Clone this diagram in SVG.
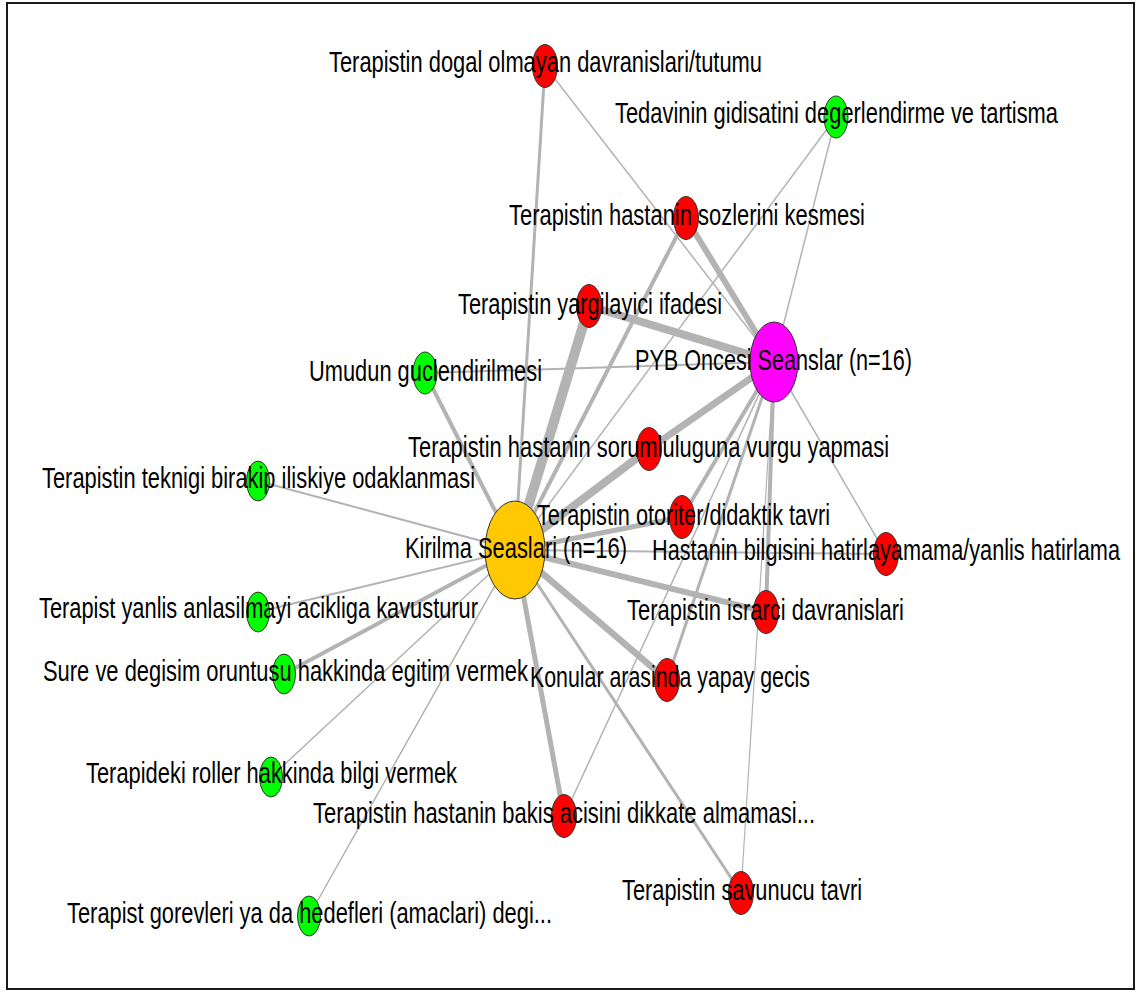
<svg xmlns="http://www.w3.org/2000/svg" width="1137" height="992" viewBox="0 0 1137 992">
  <style>
    .frame { fill: #ffffff; stroke: #1a1a1a; stroke-width: 2; }
    .edge { stroke: #b3b3b3; stroke-linecap: butt; fill: none; }
    .node { stroke: #333333; stroke-width: 1; }
    .red { fill: #ff0000; }
    .green { fill: #00ff00; }
    .magenta { fill: #ff00ff; }
    .gold { fill: #ffc800; }
    .label { font-family: "Liberation Sans Narrow", "Liberation Sans", "Arial Narrow", sans-serif; font-size: 30px; fill: #000000; }
  </style>

  <rect class="frame" x="7" y="3" width="1127" height="986"/>

  <!-- connectors: Kirilma (515,550), PYB (774,362) -->
  <g id="edges">
    <line class="edge" x1="515" y1="550" x2="545" y2="66" stroke-width="3"/>
    <line class="edge" x1="515" y1="550" x2="836" y2="117" stroke-width="1.5"/>
    <line class="edge" x1="515" y1="550" x2="686" y2="218" stroke-width="4"/>
    <line class="edge" x1="515" y1="550" x2="589" y2="306" stroke-width="10"/>
    <line class="edge" x1="515" y1="550" x2="425" y2="373" stroke-width="4"/>
    <line class="edge" x1="515" y1="550" x2="649" y2="449" stroke-width="8"/>
    <line class="edge" x1="515" y1="550" x2="258" y2="481" stroke-width="2"/>
    <line class="edge" x1="515" y1="550" x2="682" y2="517" stroke-width="5"/>
    <line class="edge" x1="515" y1="550" x2="886" y2="554" stroke-width="2"/>
    <line class="edge" x1="515" y1="550" x2="258" y2="612" stroke-width="2"/>
    <line class="edge" x1="515" y1="550" x2="766" y2="612" stroke-width="6"/>
    <line class="edge" x1="515" y1="550" x2="284" y2="674" stroke-width="4"/>
    <line class="edge" x1="515" y1="550" x2="667" y2="680" stroke-width="6.5"/>
    <line class="edge" x1="515" y1="550" x2="271" y2="777" stroke-width="1.5"/>
    <line class="edge" x1="515" y1="550" x2="564" y2="816" stroke-width="5"/>
    <line class="edge" x1="515" y1="550" x2="741" y2="893" stroke-width="3"/>
    <line class="edge" x1="515" y1="550" x2="309" y2="916" stroke-width="1.5"/>

    <line class="edge" x1="774" y1="362" x2="545" y2="66" stroke-width="1.5"/>
    <line class="edge" x1="774" y1="362" x2="836" y2="117" stroke-width="1.5"/>
    <line class="edge" x1="774" y1="362" x2="686" y2="218" stroke-width="6"/>
    <line class="edge" x1="774" y1="362" x2="589" y2="306" stroke-width="8"/>
    <line class="edge" x1="774" y1="362" x2="425" y2="373" stroke-width="2"/>
    <line class="edge" x1="774" y1="362" x2="649" y2="449" stroke-width="7"/>
    <line class="edge" x1="774" y1="362" x2="682" y2="517" stroke-width="4"/>
    <line class="edge" x1="774" y1="362" x2="886" y2="554" stroke-width="1.5"/>
    <line class="edge" x1="774" y1="362" x2="766" y2="612" stroke-width="4"/>
    <line class="edge" x1="774" y1="362" x2="667" y2="680" stroke-width="3"/>
    <line class="edge" x1="774" y1="362" x2="564" y2="816" stroke-width="1.5"/>
    <line class="edge" x1="774" y1="362" x2="741" y2="893" stroke-width="1.2"/>
  </g>

  <g id="n-kirilma">
    <ellipse class="node gold" cx="515" cy="550" rx="30" ry="49"/>
    <text class="label" x="405" y="558" textLength="222" lengthAdjust="spacingAndGlyphs">Kirilma Seaslari (n=16)</text>
  </g>
  <g id="n-pyb">
    <ellipse class="node magenta" cx="774" cy="362" rx="24" ry="40"/>
    <text class="label" x="635" y="370" textLength="277" lengthAdjust="spacingAndGlyphs">PYB Oncesi Seanslar (n=16)</text>
  </g>

  <g id="n-dogal">
    <ellipse class="node red" cx="545" cy="66" rx="12.5" ry="21.5"/>
    <text class="label" x="329" y="72" textLength="433" lengthAdjust="spacingAndGlyphs">Terapistin dogal olmayan davranislari/tutumu</text>
  </g>
  <g id="n-tedavi">
    <ellipse class="node green" cx="836" cy="117" rx="12" ry="21"/>
    <text class="label" x="615" y="123" textLength="443" lengthAdjust="spacingAndGlyphs">Tedavinin gidisatini degerlendirme ve tartisma</text>
  </g>
  <g id="n-kesme">
    <ellipse class="node red" cx="686" cy="218" rx="12.5" ry="21.5"/>
    <text class="label" x="509" y="225" textLength="356" lengthAdjust="spacingAndGlyphs">Terapistin hastanin sozlerini kesmesi</text>
  </g>
  <g id="n-yargi">
    <ellipse class="node red" cx="589" cy="306" rx="12.5" ry="21.5"/>
    <text class="label" x="458" y="314" textLength="264" lengthAdjust="spacingAndGlyphs">Terapistin yargilayici ifadesi</text>
  </g>
  <g id="n-umut">
    <ellipse class="node green" cx="425" cy="373" rx="12" ry="21"/>
    <text class="label" x="309" y="381" textLength="233" lengthAdjust="spacingAndGlyphs">Umudun guclendirilmesi</text>
  </g>
  <g id="n-sorumluluk">
    <ellipse class="node red" cx="649" cy="449" rx="12.5" ry="21.5"/>
    <text class="label" x="408" y="457" textLength="481" lengthAdjust="spacingAndGlyphs">Terapistin hastanin sorumluluguna vurgu yapmasi</text>
  </g>
  <g id="n-teknik">
    <ellipse class="node green" cx="258" cy="481" rx="11.5" ry="20"/>
    <text class="label" x="42" y="488" textLength="433" lengthAdjust="spacingAndGlyphs">Terapistin teknigi birakip iliskiye odaklanmasi</text>
  </g>
  <g id="n-otoriter">
    <ellipse class="node red" cx="682" cy="517" rx="12.5" ry="21.5"/>
    <text class="label" x="537" y="525" textLength="293" lengthAdjust="spacingAndGlyphs">Terapistin otoriter/didaktik tavri</text>
  </g>
  <g id="n-hatirlama">
    <ellipse class="node red" cx="886" cy="554" rx="12.5" ry="21.5"/>
    <text class="label" x="652" y="560" textLength="468" lengthAdjust="spacingAndGlyphs">Hastanin bilgisini hatirlayamama/yanlis hatirlama</text>
  </g>
  <g id="n-yanlis">
    <ellipse class="node green" cx="258" cy="612" rx="11.5" ry="20"/>
    <text class="label" x="39" y="618" textLength="439" lengthAdjust="spacingAndGlyphs">Terapist yanlis anlasilmayi acikliga kavusturur</text>
  </g>
  <g id="n-israr">
    <ellipse class="node red" cx="766" cy="612" rx="12.5" ry="21.5"/>
    <text class="label" x="627" y="620" textLength="277" lengthAdjust="spacingAndGlyphs">Terapistin israrci davranislari</text>
  </g>
  <g id="n-sure">
    <ellipse class="node green" cx="284" cy="674" rx="11.5" ry="20"/>
    <text class="label" x="43" y="681" textLength="485" lengthAdjust="spacingAndGlyphs">Sure ve degisim oruntusu hakkinda egitim vermek</text>
  </g>
  <g id="n-konular">
    <ellipse class="node red" cx="667" cy="680" rx="12.5" ry="21.5"/>
    <text class="label" x="530" y="687" textLength="280" lengthAdjust="spacingAndGlyphs">Konular arasinda yapay gecis</text>
  </g>
  <g id="n-roller">
    <ellipse class="node green" cx="271" cy="777" rx="11.5" ry="20"/>
    <text class="label" x="86" y="783" textLength="371" lengthAdjust="spacingAndGlyphs">Terapideki roller hakkinda bilgi vermek</text>
  </g>
  <g id="n-bakis">
    <ellipse class="node red" cx="564" cy="816" rx="12.5" ry="21.5"/>
    <text class="label" x="313" y="823" textLength="502" lengthAdjust="spacingAndGlyphs">Terapistin hastanin bakis acisini dikkate almamasi...</text>
  </g>
  <g id="n-savunucu">
    <ellipse class="node red" cx="741" cy="893" rx="12.5" ry="21.5"/>
    <text class="label" x="622" y="900" textLength="240" lengthAdjust="spacingAndGlyphs">Terapistin savunucu tavri</text>
  </g>
  <g id="n-gorev">
    <ellipse class="node green" cx="309" cy="916" rx="11.5" ry="20"/>
    <text class="label" x="67" y="923" textLength="485" lengthAdjust="spacingAndGlyphs">Terapist gorevleri ya da hedefleri (amaclari) degi...</text>
  </g>
</svg>
